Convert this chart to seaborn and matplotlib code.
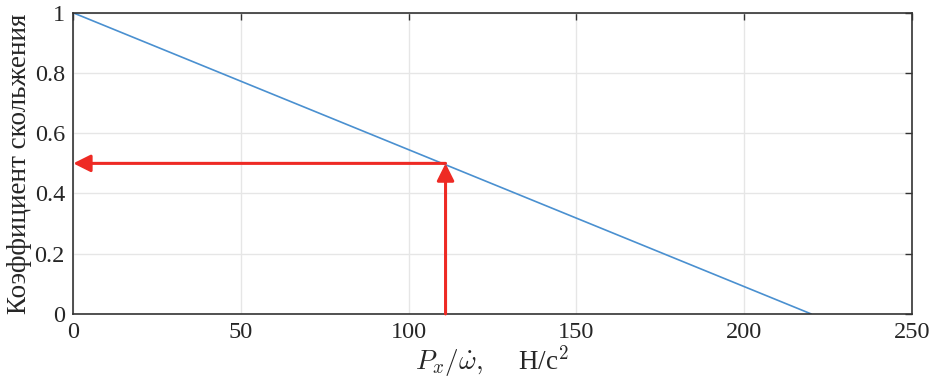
import matplotlib
matplotlib.use("Agg")
import matplotlib.pyplot as plt
import seaborn as sns
import pandas as pd

# Data
force_ratio = [0, 220]          # P_x / omega-dot, N/s^2
slip_coef = [1.0, 0.0]          # slip coefficient
marker_x = 111                  # value marked by the red arrows
marker_y = 0.5

x_ticks = [0, 50, 100, 150, 200, 250]
y_ticks = [0, 0.2, 0.4, 0.6, 0.8, 1]
y_tick_labels = ["0", "0.2", "0.4", "0.6", "0.8", "1"]

sns.set_style("whitegrid")
plt.rcParams['font.family'] = ['Liberation Serif', 'DejaVu Serif']
plt.rcParams['mathtext.fontset'] = 'cm'

df = pd.DataFrame({"x": force_ratio, "y": slip_coef})

fig = plt.figure(figsize=(9.39, 3.89), dpi=100)
ax = fig.add_axes([0.078, 0.193, 0.893, 0.774])

sns.lineplot(data=df, x="x", y="y", ax=ax, color="#4a90d0", linewidth=1.2)

# red arrows: up from the x axis, then left to the y axis
arrow_style = dict(arrowstyle="-|>", color="#ee2a24", lw=2.2,
                   mutation_scale=26, shrinkA=0, shrinkB=0)
ax.annotate("", xy=(marker_x, marker_y), xytext=(marker_x, 0),
            arrowprops=arrow_style)
ax.annotate("", xy=(0, marker_y), xytext=(marker_x, marker_y),
            arrowprops=arrow_style)

ax.set_xlim(0, 250)
ax.set_ylim(0, 1)
ax.set_xticks(x_ticks)
ax.set_yticks(y_ticks)
ax.set_yticklabels(y_tick_labels)
ax.tick_params(axis="both", labelsize=17.5, direction="in", length=5,
               width=1, color="#333333", pad=6)
ax.tick_params(top=True, right=True)

ax.grid(True, color="#e6e6e6", linewidth=1)
for s in ax.spines.values():
    s.set_color("#333333")
    s.set_linewidth(1.2)

ax.set_xlabel(r"$P_x/\dot{\omega},\quad$ Н/с$^2$", fontsize=19.5, labelpad=0)
ax.set_ylabel("Коэффициент скольжения", fontsize=19.5, labelpad=2)

plt.savefig("out.png", dpi=100)
